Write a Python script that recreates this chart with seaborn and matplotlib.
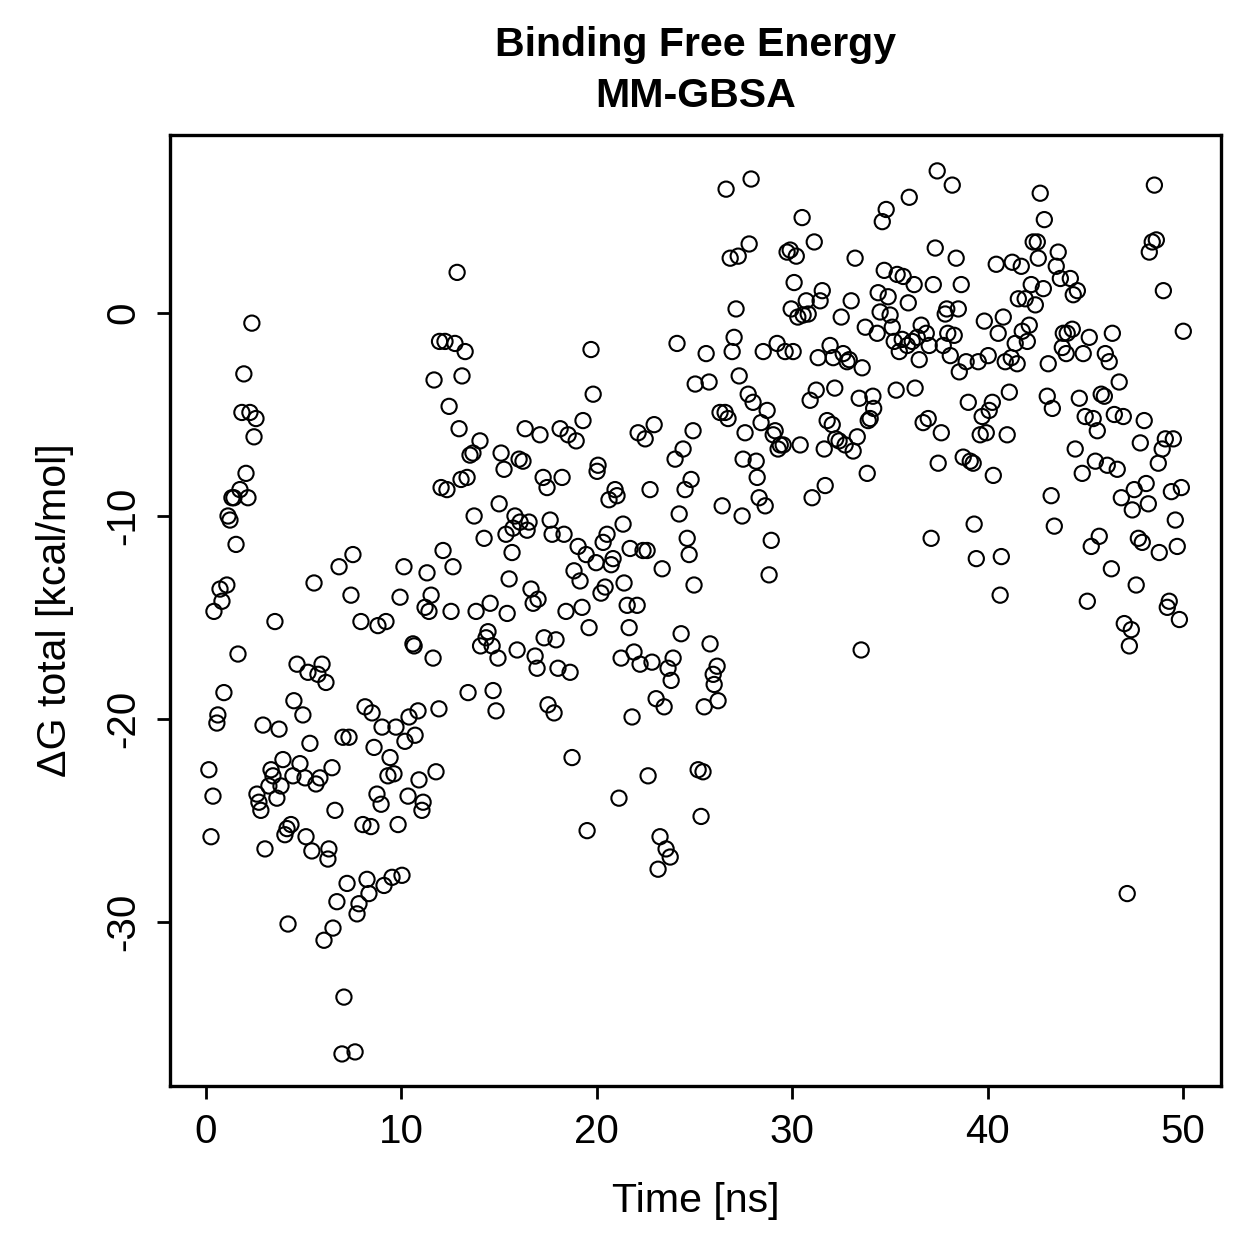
import matplotlib
matplotlib.use("Agg")
import matplotlib.pyplot as plt
import seaborn as sns
import pandas as pd

# MM-GBSA binding free energy per frame
time_ns = [
    0.15, 0.26, 0.36, 0.41, 0.56, 0.61, 0.72, 0.82, 0.92, 1.07,
    1.13, 1.23, 1.33, 1.43, 1.54, 1.64, 1.74, 1.84, 1.94, 2.05,
    2.15, 2.25, 2.35, 2.46, 2.56, 2.61, 2.71, 2.81, 2.92, 3.02,
    3.22, 3.33, 3.43, 3.53, 3.63, 3.74, 3.84, 3.94, 4.04, 4.15,
    4.20, 4.35, 4.45, 4.50, 4.66, 4.81, 4.96, 5.07, 5.12, 5.22,
    5.32, 5.42, 5.53, 5.63, 5.73, 5.83, 5.94, 6.04, 6.14, 6.24,
    6.29, 6.45, 6.50, 6.60, 6.70, 6.81, 6.96, 7.01, 7.06, 7.22,
    7.32, 7.42, 7.52, 7.63, 7.73, 7.83, 7.93, 8.03, 8.14, 8.24,
    8.34, 8.44, 8.50, 8.60, 8.75, 8.80, 8.96, 9.01, 9.11, 9.21,
    9.31, 9.42, 9.52, 9.62, 9.72, 9.83, 9.93, 10.03, 10.13, 10.18,
    10.34, 10.39, 10.59, 10.65, 10.70, 10.85, 10.90, 11.05, 11.11, 11.21,
    11.31, 11.41, 11.52, 11.62, 11.67, 11.77, 11.92, 11.95, 12.03, 12.13,
    12.23, 12.33, 12.44, 12.54, 12.64, 12.74, 12.85, 12.95, 13.05, 13.10,
    13.26, 13.36, 13.41, 13.51, 13.66, 13.72, 13.82, 14.02, 14.05, 14.23,
    14.33, 14.43, 14.54, 14.64, 14.69, 14.84, 14.94, 15.00, 15.10, 15.25,
    15.35, 15.41, 15.51, 15.66, 15.71, 15.81, 15.92, 16.02, 16.07, 16.22,
    16.33, 16.43, 16.53, 16.63, 16.74, 16.84, 16.94, 16.99, 17.09, 17.25,
    17.30, 17.45, 17.50, 17.61, 17.71, 17.81, 17.91, 18.01, 18.12, 18.22,
    18.32, 18.42, 18.53, 18.63, 18.73, 18.83, 18.94, 19.04, 19.14, 19.24,
    19.29, 19.45, 19.50, 19.60, 19.70, 19.81, 19.96, 20.01, 20.06, 20.21,
    20.32, 20.42, 20.52, 20.62, 20.73, 20.83, 20.93, 21.03, 21.13, 21.24,
    21.34, 21.39, 21.55, 21.65, 21.70, 21.80, 21.90, 22.06, 22.11, 22.21,
    22.36, 22.47, 22.57, 22.62, 22.72, 22.82, 22.93, 23.03, 23.13, 23.23,
    23.34, 23.44, 23.54, 23.64, 23.75, 23.80, 23.90, 24.00, 24.10, 24.21,
    24.31, 24.41, 24.51, 24.62, 24.72, 24.82, 24.92, 24.97, 25.03, 25.18,
    25.33, 25.43, 25.49, 25.59, 25.74, 25.79, 25.95, 26.00, 26.15, 26.20,
    26.30, 26.41, 26.56, 26.61, 26.71, 26.82, 26.92, 27.02, 27.12, 27.23,
    27.28, 27.43, 27.48, 27.58, 27.74, 27.79, 27.89, 27.99, 28.15, 28.20,
    28.30, 28.40, 28.51, 28.61, 28.71, 28.81, 28.92, 29.02, 29.12, 29.22,
    29.27, 29.38, 29.53, 29.63, 29.73, 29.89, 29.94, 30.04, 30.09, 30.20,
    30.28, 30.40, 30.50, 30.55, 30.71, 30.81, 30.91, 31.01, 31.12, 31.22,
    31.32, 31.42, 31.53, 31.63, 31.68, 31.78, 31.93, 32.04, 32.09, 32.17,
    32.22, 32.39, 32.50, 32.60, 32.70, 32.80, 32.91, 33.01, 33.11, 33.21,
    33.32, 33.42, 33.52, 33.57, 33.73, 33.83, 33.88, 33.98, 34.12, 34.16,
    34.34, 34.39, 34.49, 34.60, 34.70, 34.80, 34.90, 35.00, 35.11, 35.21,
    35.31, 35.36, 35.47, 35.62, 35.67, 35.88, 35.93, 35.98, 36.13, 36.23,
    36.28, 36.39, 36.49, 36.59, 36.69, 36.85, 36.95, 37.00, 37.10, 37.21,
    37.31, 37.41, 37.46, 37.62, 37.72, 37.82, 37.90, 37.95, 38.08, 38.18,
    38.28, 38.38, 38.49, 38.54, 38.64, 38.74, 38.89, 39.00, 39.10, 39.25,
    39.30, 39.41, 39.51, 39.61, 39.71, 39.82, 39.92, 40.02, 40.07, 40.23,
    40.28, 40.43, 40.53, 40.63, 40.69, 40.79, 40.89, 40.99, 41.10, 41.20,
    41.25, 41.40, 41.50, 41.56, 41.71, 41.76, 41.91, 42.02, 42.12, 42.22,
    42.32, 42.43, 42.53, 42.58, 42.68, 42.84, 42.89, 43.04, 43.09, 43.24,
    43.30, 43.40, 43.50, 43.60, 43.71, 43.81, 43.86, 44.01, 44.06, 44.22,
    44.32, 44.37, 44.47, 44.58, 44.68, 44.83, 44.88, 44.98, 45.09, 45.19,
    45.29, 45.39, 45.50, 45.60, 45.70, 45.80, 45.96, 46.01, 46.11, 46.21,
    46.32, 46.37, 46.47, 46.62, 46.72, 46.83, 46.93, 46.98, 47.13, 47.24,
    47.34, 47.39, 47.49, 47.59, 47.70, 47.80, 47.90, 48.00, 48.10, 48.21,
    48.26, 48.41, 48.52, 48.62, 48.72, 48.77, 48.92, 48.98, 49.08, 49.18,
    49.28, 49.39, 49.49, 49.59, 49.69, 49.80, 49.90, 50.00,
]

dg_total = [
    -22.5, -25.8, -23.8, -14.7, -20.2, -19.8, -13.6, -14.2, -18.7, -13.4,
    -10.0, -10.2, -9.1, -9.1, -11.4, -16.8, -8.7, -4.9, -3.0, -7.9,
    -9.1, -4.9, -0.5, -6.1, -5.2, -23.7, -24.1, -24.5, -20.3, -26.4,
    -23.3, -22.5, -22.8, -15.2, -23.9, -20.5, -23.3, -22.0, -25.7, -25.4,
    -30.1, -25.2, -22.8, -19.1, -17.3, -22.2, -19.8, -22.9, -25.8, -17.7,
    -21.2, -26.5, -13.3, -23.2, -17.8, -22.9, -17.3, -30.9, -18.2, -26.9,
    -26.4, -22.4, -30.3, -24.5, -29.0, -12.5, -36.5, -20.9, -33.7, -28.1,
    -20.9, -13.9, -11.9, -36.4, -29.6, -29.1, -15.2, -25.2, -19.4, -27.9,
    -28.6, -25.3, -19.7, -21.4, -23.7, -15.4, -24.2, -20.4, -28.2, -15.2,
    -22.8, -21.9, -27.8, -22.7, -20.4, -25.2, -14.0, -27.7, -12.5, -21.1,
    -23.8, -19.9, -16.3, -16.4, -20.8, -19.6, -23.0, -24.5, -24.1, -14.5,
    -12.8, -14.7, -13.9, -17.0, -3.3, -22.6, -19.5, -1.4, -8.6, -11.7,
    -1.4, -8.7, -4.6, -14.7, -12.5, -1.5, 2.0, -5.7, -8.2, -3.1,
    -1.9, -8.1, -18.7, -7.0, -6.9, -10.0, -14.7, -6.3, -16.4, -11.1,
    -16.0, -15.7, -14.3, -16.4, -18.6, -19.6, -17.0, -9.4, -6.9, -7.7,
    -10.9, -14.8, -13.1, -11.8, -10.6, -10.0, -16.6, -7.2, -10.3, -7.3,
    -5.7, -10.7, -10.3, -13.6, -14.3, -16.9, -17.5, -14.1, -6.0, -8.1,
    -16.0, -8.6, -19.3, -10.2, -10.9, -19.7, -16.1, -17.5, -5.7, -8.1,
    -10.9, -14.7, -6.0, -17.7, -21.9, -12.7, -6.3, -11.5, -13.2, -14.5,
    -5.3, -11.9, -25.5, -15.5, -1.8, -4.0, -12.3, -7.8, -7.5, -13.8,
    -11.3, -13.5, -10.9, -9.2, -12.4, -12.1, -8.7, -9.0, -23.9, -17.0,
    -10.4, -13.3, -14.4, -15.5, -11.6, -19.9, -16.7, -14.4, -5.9, -17.3,
    -11.7, -6.2, -11.7, -22.8, -8.7, -17.2, -5.5, -19.0, -27.4, -25.8,
    -12.6, -19.4, -26.4, -17.5, -26.8, -18.1, -17.0, -7.2, -1.5, -9.9,
    -15.8, -6.7, -8.7, -11.1, -11.9, -8.2, -5.8, -13.4, -3.5, -22.5,
    -24.8, -22.6, -19.4, -2.0, -3.4, -16.3, -17.8, -18.3, -17.4, -19.1,
    -4.9, -9.5, -4.9, 6.1, -5.2, 2.7, -1.9, -1.2, 0.2, 2.8,
    -3.1, -10.0, -7.2, -5.9, -4.0, 3.4, 6.6, -4.4, -7.3, -8.1,
    -9.1, -5.4, -1.9, -9.5, -4.8, -12.9, -11.2, -6.0, -5.8, -1.5,
    -6.7, -6.5, -6.5, -1.9, 3.0, 3.1, 0.2, -1.9, 1.5, 2.8,
    -0.2, -6.5, 4.7, -0.1, 0.6, -0.05, -4.3, -9.1, 3.5, -3.8,
    -2.2, 0.6, 1.1, -6.7, -8.5, -5.3, -1.6, -5.5, -2.2, -3.7,
    -6.2, -6.3, -0.2, -2.0, -6.5, -2.4, -2.3, 0.6, -6.8, 2.7,
    -6.1, -4.2, -16.6, -2.7, -0.7, -7.9, -5.3, -5.2, -4.1, -4.7,
    -1.0, 1.0, 0.05, 4.5, 2.1, 5.1, 0.8, -0.1, -0.7, -1.4,
    -3.8, 1.9, -1.9, -1.3, 1.8, -1.6, 0.5, 5.7, -1.4, 1.4,
    -3.7, -1.2, -2.3, -0.6, -5.4, -1.0, -5.2, -1.6, -11.1, 1.4,
    3.2, 7.0, -7.4, -5.9, -1.6, -0.05, 0.2, -1.0, -2.1, 6.3,
    -1.1, 2.7, 0.2, -2.9, 1.4, -7.1, -2.4, -4.4, -7.3, -7.4,
    -10.4, -12.1, -2.4, -6.0, -5.1, -0.4, -5.9, -2.1, -4.8, -4.4,
    -8.0, 2.4, -1.0, -13.9, -12.0, -0.2, -2.4, -6.0, -3.9, -2.2,
    2.5, -1.5, -2.5, 0.7, 2.3, -0.9, 0.7, -1.4, -0.6, 1.4,
    3.5, 0.4, 3.5, 2.7, 5.9, 1.2, 4.6, -4.1, -2.5, -9.0,
    -4.7, -10.5, 2.3, 3.0, 1.7, -1.7, -1.0, -2.0, -1.0, 1.7,
    -0.8, 0.9, -6.7, 1.1, -4.2, -7.9, -2.0, -5.1, -14.2, -1.2,
    -11.5, -5.2, -7.3, -5.8, -11.0, -4.0, -4.1, -2.0, -7.5, -2.4,
    -12.6, -1.0, -5.0, -7.7, -3.4, -9.1, -5.1, -15.3, -28.6, -16.4,
    -15.6, -9.7, -8.7, -13.4, -11.1, -6.4, -11.3, -5.3, -8.4, -9.4,
    3.0, 3.5, 6.3, 3.6, -7.4, -11.8, -6.7, 1.1, -6.2, -14.5,
    -14.2, -8.8, -6.2, -10.2, -11.5, -15.1, -8.6, -0.9,
]

x_ticks = [0, 10, 20, 30, 40, 50]
y_ticks = [0, -10, -20, -30]

df = pd.DataFrame({"time": time_ns, "dg": dg_total})

sns.set_style("ticks")
plt.rcParams["font.family"] = ["Liberation Sans", "DejaVu Sans"]
plt.rcParams["axes.unicode_minus"] = False
plt.rcParams["text.color"] = "black"
plt.rcParams["axes.labelcolor"] = "black"

fig = plt.figure(figsize=(6.295, 6.295), dpi=200)
ax = fig.add_axes([0.135, 0.1374, 0.835, 0.7554])

sns.scatterplot(data=df, x="time", y="dg", ax=ax, marker="o", s=30,
                facecolor="none", edgecolor="black", linewidth=0.75)

ax.set_xlim(-1.84, 51.94)
ax.set_ylim(-38.08, 8.77)
ax.set_xticks(x_ticks)
ax.set_yticks(y_ticks)
ax.set_xticklabels([str(v) for v in x_ticks])
ax.set_yticklabels([str(v) for v in y_ticks], rotation=90, va="center")

for side in ["top", "right", "bottom", "left"]:
    ax.spines[side].set_visible(True)
    ax.spines[side].set_linewidth(1.2)
    ax.spines[side].set_color("black")

ax.tick_params(direction="out", length=4.8, width=1.0, labelsize=14.5,
               colors="black", pad=5)

ax.set_xlabel("Time [ns]", fontsize=14.8, labelpad=11, color="black")
ax.set_ylabel("ΔG total [kcal/mol]", fontsize=14.8, labelpad=11, color="black")
ax.set_title("Binding Free Energy\nMM-GBSA", fontsize=14.8, fontweight="bold",
             pad=10, linespacing=1.45, color="black")

fig.savefig("out.png", dpi=200, facecolor="white")
